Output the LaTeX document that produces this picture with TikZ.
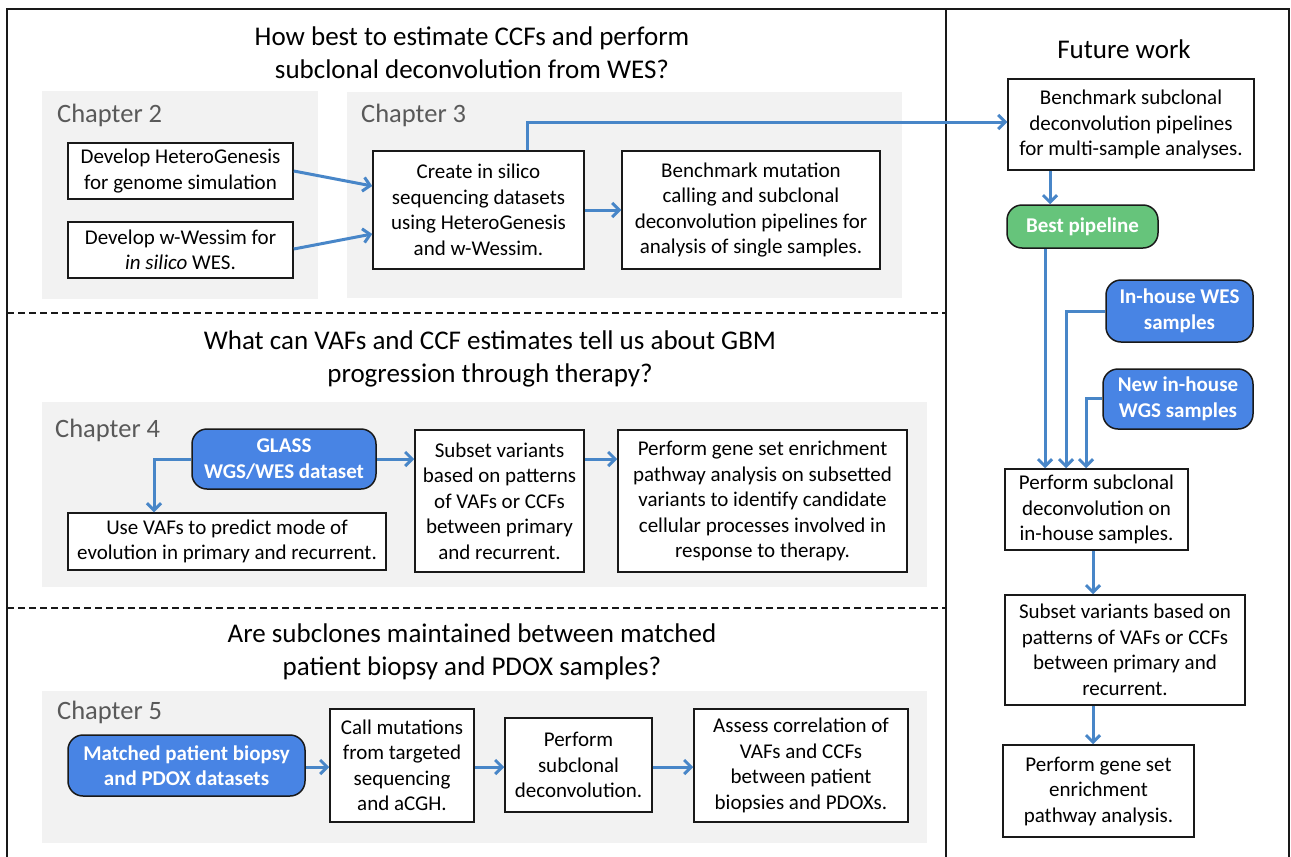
\documentclass[tikz,border=0pt]{standalone}
\usepackage{fontspec}
\setmainfont{Carlito}
\usetikzlibrary{arrows.meta}
\definecolor{arrowblue}{RGB}{72,134,200}
\definecolor{fillblue}{RGB}{72,132,228}
\definecolor{fillgreen}{RGB}{102,196,123}
\definecolor{panelgray}{RGB}{242,242,242}
\definecolor{chapgray}{RGB}{89,89,89}
\tikzset{
  panel/.style={fill=panelgray, draw=none},
  wbox/.style={draw=black!90, line width=1.5pt, fill=white, inner sep=0pt, align=center,
    font=\fontsize{21}{25.5}\selectfont},
  rbox/.style={draw=black!90, line width=1.5pt, fill=fillblue, rounded corners=15pt, inner sep=0pt,
    align=center, text=white, font=\fontsize{21}{25.5}\selectfont\bfseries},
  gbox/.style={rbox, fill=fillgreen},
  chap/.style={anchor=west, inner sep=0pt, text=chapgray, font=\fontsize{26.5}{30}\selectfont},
  qtitle/.style={align=center, inner sep=0pt, font=\fontsize{27}{33}\selectfont},
  conn/.style={draw=arrowblue, line width=3pt, -{Straight Barb[length=7pt,width=14pt]}},
  sep/.style={draw=black!90, line width=1.3pt, dash pattern=on 7pt off 4pt},
  frame/.style={draw=black!90, line width=1.5pt}
}
\begin{document}
\begin{tikzpicture}[x=1pt,y=-1pt]
\useasboundingbox (0,0) rectangle (1291,857);
% frame
\begin{scope}
\clip (0,0) rectangle (1291,857);
\draw[frame] (7,870) -- (7,9) -- (1289,9) -- (1289,870);
\draw[frame] (946,9) -- (946,870);
\end{scope}
\draw[sep] (7,313) -- (946,313);
\draw[sep] (7,608) -- (946,608);
% panels
\fill[panel] (42,91) rectangle (318,299);
\fill[panel] (347,92) rectangle (902,298);
\fill[panel] (42,402) rectangle (927,587);
\fill[panel] (42,691) rectangle (927,843);
% titles
\node[qtitle] (q1) at (472,53) {How best to estimate CCFs and perform\\subclonal deconvolution from WES?};
\node[qtitle] (q2) at (490,359) {What can VAFs and CCF estimates tell us about GBM\\progression through therapy?};
\node[qtitle] (q3) at (472,652) {Are subclones maintained between matched\\patient biopsy and PDOX samples?};
\node[qtitle] (fw) at (1124,49) {Future work};
% chapter labels
\node[chap] (c2) at (57,115) {Chapter 2};
\node[chap] (c3) at (361,115) {Chapter 3};
\node[chap] (c4) at (55,430) {Chapter 4};
\node[chap] (c5) at (57,712) {Chapter 5};
% chapter 2/3 boxes
\node[wbox, minimum width=225pt, minimum height=56pt] (hg) at (180.5,171) {Develop HeteroGenesis\\for genome simulation};
\node[wbox, minimum width=225pt, minimum height=56pt] (ww) at (180.5,250) {Develop w-Wessim for\\\textit{in silico} WES.};
\node[wbox, minimum width=211pt, minimum height=118pt] (cr) at (478.5,210) {Create in silico\\sequencing datasets\\using HeteroGenesis\\and w-Wessim.};
\node[wbox, minimum width=258pt, minimum height=118pt] (bm) at (751,210) {Benchmark mutation\\calling and subclonal\\deconvolution pipelines for\\analysis of single samples.};
% future work
\node[wbox, minimum width=246pt, minimum height=91pt] (fb) at (1131,124.5) {Benchmark subclonal\\deconvolution pipelines\\for multi-sample analyses.};
\node[gbox, minimum width=151pt, minimum height=43pt] (bp) at (1082.5,226.5) {Best pipeline};
\node[rbox, minimum width=147pt, minimum height=62pt] (iw) at (1179.5,311) {In-house WES\\samples};
\node[rbox, minimum width=150pt, minimum height=60pt] (nw) at (1178,399) {New in-house\\WGS samples};
\node[wbox, minimum width=183pt, minimum height=81pt] (ps) at (1096.5,509.5) {Perform subclonal\\deconvolution on\\in-house samples.};
\node[wbox, minimum width=240pt, minimum height=110pt] (sv) at (1125,650) {Subset variants based on\\patterns of VAFs or CCFs\\between primary and\\recurrent.};
\node[wbox, minimum width=191pt, minimum height=92pt] (gs) at (1098.5,791) {Perform gene set\\enrichment\\pathway analysis.};
% chapter 4
\node[rbox, minimum width=184pt, minimum height=60pt] (gl) at (284,459) {GLASS\\WGS/WES dataset};
\node[wbox, minimum width=318pt, minimum height=57pt] (uv) at (227,541.5) {Use VAFs to predict mode of\\evolution in primary and recurrent.};
\node[wbox, minimum width=169pt, minimum height=142pt] (s4) at (499.5,501) {Subset variants\\based on patterns\\of VAFs or CCFs\\between primary\\and recurrent.};
\node[wbox, minimum width=289pt, minimum height=142pt] (p4) at (762.5,501) {Perform gene set enrichment\\pathway analysis on subsetted\\variants to identify candidate\\cellular processes involved in\\response to therapy.};
% chapter 5
\node[rbox, minimum width=237pt, minimum height=61pt] (mp) at (186.5,765.5) {Matched patient biopsy\\and PDOX datasets};
\node[wbox, minimum width=144pt, minimum height=113pt] (cm) at (402,765.5) {Call mutations\\from targeted\\sequencing\\and aCGH.};
\node[wbox, minimum width=147pt, minimum height=94pt] (pd) at (578.5,765) {Perform\\subclonal\\deconvolution.};
\node[wbox, minimum width=214pt, minimum height=113pt] (ac) at (801,765.5) {Assess correlation of\\VAFs and CCFs\\between patient\\biopsies and PDOXs.};
% connectors chapter 2/3
\draw[conn] (hg.east |- 0,171) -- (cr.west |- 0,186);
\draw[conn] (ww.east |- 0,249) -- (cr.west |- 0,234);
\draw[conn] (cr.east) -- (bm.west);
\draw[conn] (cr.north -| 527,0) -- (527,122) -- (fb.west |- 0,122);
% future work
\draw[conn] (fb.south -| 1050,0) -- (bp.north -| 1050,0);
\draw[conn] (bp.south -| 1045,0) -- (ps.north -| 1045,0);
\draw[conn] (iw.west) -- (1066,311) -- (ps.north -| 1066,0);
\draw[conn] (nw.west |- 0,398) -- (1086,398) -- (ps.north -| 1086,0);
\draw[conn] (ps.south -| 1093,0) -- (sv.north -| 1093,0);
\draw[conn] (sv.south -| 1093,0) -- (gs.north -| 1093,0);
% chapter 4
\draw[conn] (gl.west) -- (154,459) -- (uv.north -| 154,0);
\draw[conn] (gl.east) -- (s4.west |- 0,459);
\draw[conn] (s4.east |- 0,459) -- (p4.west |- 0,459);
% chapter 5
\draw[conn] (mp.east |- 0,767) -- (cm.west |- 0,767);
\draw[conn] (cm.east |- 0,767) -- (pd.west |- 0,767);
\draw[conn] (pd.east |- 0,767) -- (ac.west |- 0,767);
\end{tikzpicture}
\end{document}
